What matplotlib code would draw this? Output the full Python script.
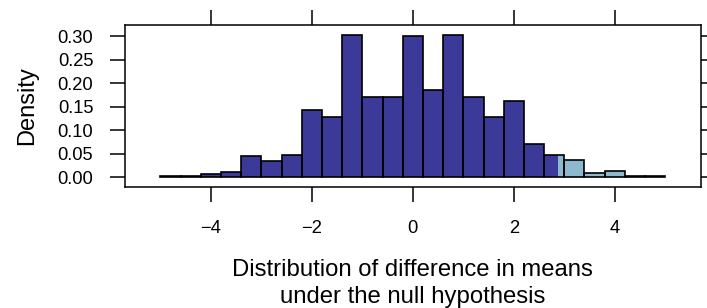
"""Histogram of the permutation distribution of the difference in means,
with the upper tail beyond the observed statistic shaded light blue."""
import matplotlib
matplotlib.use("Agg")
import matplotlib.pyplot as plt
import numpy as np
from matplotlib.patches import Rectangle

plt.rcParams["font.family"] = ["Liberation Sans", "DejaVu Sans"]

# bin edges: -5 to 5 in steps of 0.4 (25 bins)
bin_edges = np.linspace(-5, 5, 26)
density = [0.002, 0.002, 0.007, 0.011, 0.045, 0.034, 0.047, 0.143, 0.127, 0.302,
           0.171, 0.170, 0.300, 0.185, 0.303, 0.171, 0.129, 0.162, 0.070, 0.047,
           0.036, 0.009, 0.012, 0.002, 0.002]
observed_diff = 2.87
y_ticks = [0.00, 0.05, 0.10, 0.15, 0.20, 0.25, 0.30]
x_ticks = [-4, -2, 0, 2, 4]

DARK = "#3b3a98"
LIGHT = "#8db9ce"

fig = plt.figure(figsize=(7.07, 3.08), dpi=100)
ax = fig.add_axes([0.1768, 0.3929, 0.8142, 0.5259])

lefts = bin_edges[:-1]
widths = np.diff(bin_edges)

# dark fill for all bins
ax.bar(lefts, density, width=widths, align="edge", color=DARK, linewidth=0)
# light fill for the tail beyond the observed statistic
tail = ax.bar(lefts, density, width=widths, align="edge", color=LIGHT, linewidth=0)
clip = Rectangle((observed_diff, -1), 100, 10, transform=ax.transData)
for patch in tail:
    patch.set_clip_path(clip)
# outlines
ax.bar(lefts, density, width=widths, align="edge", facecolor="none",
       edgecolor="black", linewidth=1.2)

pad_x = 0.07 * (bin_edges[-1] - bin_edges[0])
ax.set_xlim(bin_edges[0] - pad_x, bin_edges[-1] + pad_x)
top = max(density)
ax.set_ylim(-0.07 * top, top * 1.07)

ax.set_xticks(x_ticks)
ax.set_yticks(y_ticks)
ax.set_yticklabels([f"{v:.2f}" for v in y_ticks])
ax.tick_params(direction="out", length=10.8, width=1.1, labelsize=13.2,
               top=True, right=True)
ax.tick_params(axis="x", pad=13)
ax.tick_params(axis="y", pad=12)

for sp in ax.spines.values():
    sp.set_linewidth(1.1)

ax.set_ylabel("Density", fontsize=17, labelpad=14)
ax.set_xlabel("Distribution of difference in means\nunder the null hypothesis",
              fontsize=17.2, labelpad=16, linespacing=1.25)

fig.savefig("out.png", dpi=100)
plt.close(fig)
